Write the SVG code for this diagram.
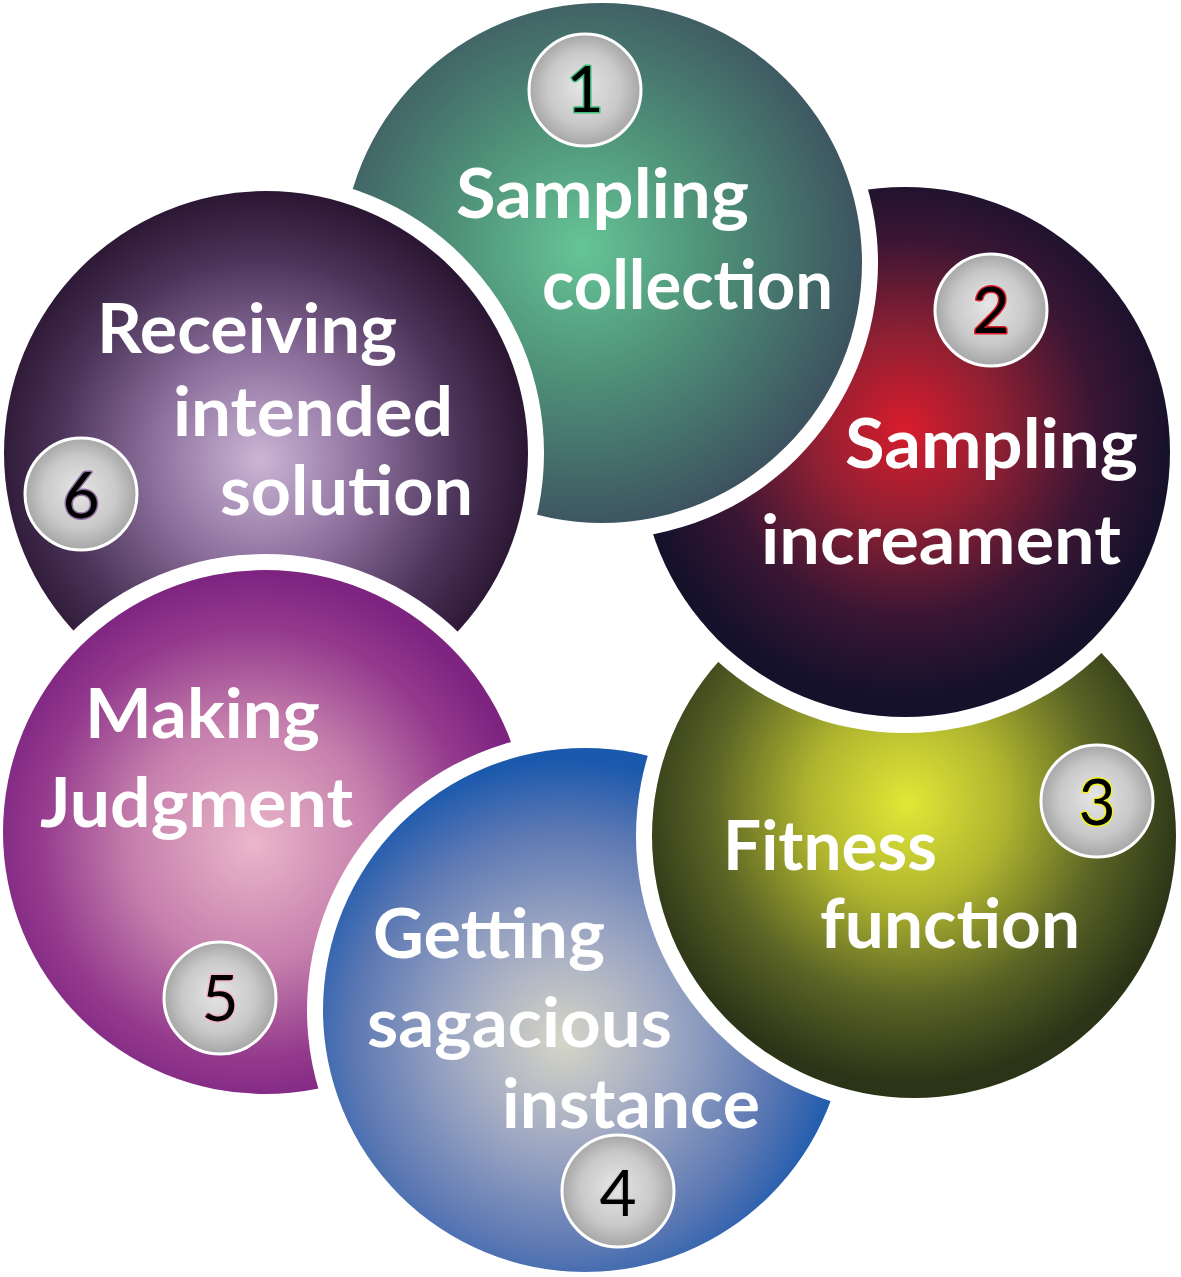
<svg xmlns="http://www.w3.org/2000/svg" width="1181" height="1277" viewBox="0 0 1181 1277">
<style>
.lbl{font-family:Lato,"Open Sans","Liberation Sans",sans-serif;font-weight:700;font-size:69px;fill:#fff}
.num{font-family:Lato,"Liberation Sans",sans-serif;font-weight:400;font-size:64px;fill:#000;text-anchor:middle;paint-order:stroke;stroke-width:3;stroke-linejoin:round}
.badge{fill:url(#gBadge);stroke:#fff;stroke-width:3}
</style>
<defs>
<radialGradient id="gBadge" cx="0.5" cy="0.5" r="0.5" fx="0.47" fy="0.45">
<stop offset="0" stop-color="#e6e6e6"/><stop offset="0.65" stop-color="#c9c9c9"/><stop offset="1" stop-color="#a6a6a6"/>
</radialGradient>
<radialGradient id="g1" gradientUnits="userSpaceOnUse" cx="582" cy="248" r="280">
<stop offset="0" stop-color="#66c596"/><stop offset="0.45" stop-color="#4f9279"/><stop offset="1" stop-color="#3d5460"/>
</radialGradient>
<radialGradient id="g2" gradientUnits="userSpaceOnUse" cx="905" cy="428" r="270">
<stop offset="0" stop-color="#d81c2c"/><stop offset="0.35" stop-color="#8e2033"/><stop offset="0.7" stop-color="#3a1634"/><stop offset="1" stop-color="#15112b"/>
</radialGradient>
<radialGradient id="g3" gradientUnits="userSpaceOnUse" cx="907" cy="803" r="280">
<stop offset="0" stop-color="#e1e836"/><stop offset="0.35" stop-color="#b0b52f"/><stop offset="0.7" stop-color="#5a6425"/><stop offset="1" stop-color="#2b3417"/>
</radialGradient>
<radialGradient id="g4" gradientUnits="userSpaceOnUse" cx="563" cy="1040" r="280">
<stop offset="0" stop-color="#d6d5c7"/><stop offset="0.4" stop-color="#9ca6c2"/><stop offset="0.75" stop-color="#5c78b3"/><stop offset="1" stop-color="#1b59ad"/>
</radialGradient>
<radialGradient id="g5" gradientUnits="userSpaceOnUse" cx="253" cy="843" r="270">
<stop offset="0" stop-color="#ebb6ca"/><stop offset="0.45" stop-color="#c57fac"/><stop offset="0.8" stop-color="#93398d"/><stop offset="1" stop-color="#7d2481"/>
</radialGradient>
<radialGradient id="g6" gradientUnits="userSpaceOnUse" cx="260" cy="460" r="270">
<stop offset="0" stop-color="#cbb5d5"/><stop offset="0.4" stop-color="#8c6f9c"/><stop offset="0.75" stop-color="#4a3358"/><stop offset="1" stop-color="#2a1632"/>
</radialGradient>
<mask id="m1" maskUnits="userSpaceOnUse" x="0" y="0" width="1181" height="1277"><rect width="1181" height="1277" fill="#fff"/><circle cx="266" cy="453" r="278" fill="#000"/></mask>
<mask id="m2" maskUnits="userSpaceOnUse" x="0" y="0" width="1181" height="1277"><rect width="1181" height="1277" fill="#fff"/><circle cx="602" cy="263" r="276" fill="#000"/></mask>
<mask id="m3" maskUnits="userSpaceOnUse" x="0" y="0" width="1181" height="1277"><rect width="1181" height="1277" fill="#fff"/><circle cx="905" cy="452" r="281" fill="#000"/></mask>
<mask id="m4" maskUnits="userSpaceOnUse" x="0" y="0" width="1181" height="1277"><rect width="1181" height="1277" fill="#fff"/><circle cx="914" cy="836" r="278" fill="#000"/></mask>
<mask id="m5" maskUnits="userSpaceOnUse" x="0" y="0" width="1181" height="1277"><rect width="1181" height="1277" fill="#fff"/><circle cx="585" cy="1010" r="278" fill="#000"/></mask>
<mask id="m6" maskUnits="userSpaceOnUse" x="0" y="0" width="1181" height="1277"><rect width="1181" height="1277" fill="#fff"/><circle cx="265" cy="832" r="278" fill="#000"/></mask>
</defs>
<rect width="1181" height="1277" fill="#fff"/>
<g id="connectors"/>
<g id="node1">
<circle cx="602" cy="263" r="260" fill="url(#g1)" mask="url(#m1)"/>
<circle class="badge" cx="585" cy="90" r="56"/>
<text class="num" x="585" y="112" stroke="#3fbf7c">1</text>
<text class="lbl" x="456" y="218" textLength="293" lengthAdjust="spacingAndGlyphs">Sampling</text>
<text class="lbl" x="542" y="309" textLength="291" lengthAdjust="spacingAndGlyphs">collection</text>
</g>
<g id="node2">
<circle cx="905" cy="452" r="265" fill="url(#g2)" mask="url(#m2)"/>
<circle class="badge" cx="991" cy="310" r="56"/>
<text class="num" x="991" y="333" stroke="#e01e2a">2</text>
<text class="lbl" x="845" y="468" textLength="293" lengthAdjust="spacingAndGlyphs">Sampling</text>
<text class="lbl" x="761" y="564" textLength="360" lengthAdjust="spacingAndGlyphs">increament</text>
</g>
<g id="node3">
<circle cx="914" cy="836" r="262" fill="url(#g3)" mask="url(#m3)"/>
<circle class="badge" cx="1097" cy="801" r="56"/>
<text class="num" x="1097" y="825" stroke="#f2f21e">3</text>
<text class="lbl" x="723" y="870" textLength="214" lengthAdjust="spacingAndGlyphs">Fitness</text>
<text class="lbl" x="820" y="948" textLength="260" lengthAdjust="spacingAndGlyphs">function</text>
</g>
<g id="node4">
<circle cx="585" cy="1010" r="262" fill="url(#g4)" mask="url(#m4)"/>
<circle class="badge" cx="618" cy="1191" r="56"/>
<text class="num" x="618" y="1216" stroke="#d0d0d0" stroke-width="1">4</text>
<text class="lbl" x="373" y="958" textLength="232" lengthAdjust="spacingAndGlyphs">Getting</text>
<text class="lbl" x="367" y="1047" textLength="305" lengthAdjust="spacingAndGlyphs">sagacious</text>
<text class="lbl" x="502" y="1128" textLength="258" lengthAdjust="spacingAndGlyphs">instance</text>
</g>
<g id="node5">
<circle cx="265" cy="832" r="262" fill="url(#g5)" mask="url(#m5)"/>
<circle class="badge" cx="220" cy="998" r="56"/>
<text class="num" x="220" y="1021" stroke="#f3b3cd">5</text>
<text class="lbl" x="85" y="738" textLength="235" lengthAdjust="spacingAndGlyphs">Making</text>
<text class="lbl" x="40" y="827" textLength="313" lengthAdjust="spacingAndGlyphs">Judgment</text>
</g>
<g id="node6">
<circle cx="266" cy="453" r="262" fill="url(#g6)" mask="url(#m6)"/>
<circle class="badge" cx="81" cy="494" r="56"/>
<text class="num" x="81" y="518" stroke="#8d6c9e">6</text>
<text class="lbl" x="97" y="353" textLength="300" lengthAdjust="spacingAndGlyphs">Receiving</text>
<text class="lbl" x="173" y="436" textLength="280" lengthAdjust="spacingAndGlyphs">intended</text>
<text class="lbl" x="220" y="515" textLength="253" lengthAdjust="spacingAndGlyphs">solution</text>
</g>
</svg>
